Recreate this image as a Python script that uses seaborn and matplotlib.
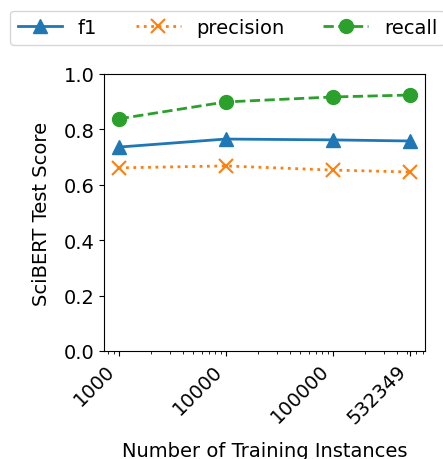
import matplotlib
matplotlib.use('Agg')
import matplotlib.pyplot as plt
import seaborn as sns
import numpy as np
import pandas as pd
from matplotlib.ticker import FixedLocator, FixedFormatter, NullFormatter

sizes = [1000, 10000, 100000, 532349]
f1 = [0.736, 0.765, 0.762, 0.758]
precision = [0.661, 0.668, 0.653, 0.646]
recall = [0.838, 0.899, 0.917, 0.924]
tick_labels = ['1000', '10000', '100000', '532349']

plt.rcParams['font.family'] = ['DejaVu Sans']
plt.rcParams['font.size'] = 14

fig = plt.figure(figsize=(4.43, 4.6), dpi=100)
ax = fig.add_axes([0.235, 0.235, 0.724, 0.602])

colors = sns.color_palette('tab10')
series = [('f1', f1, '^', '-', colors[0]),
          ('precision', precision, 'x', ':', colors[1]),
          ('recall', recall, 'o', '--', colors[2])]
for name, vals, mk, ls, c in series:
    sns.lineplot(x=sizes, y=vals, ax=ax, label=name, marker=mk, linestyle=ls,
                 color=c, linewidth=2, markersize=10,
                 markeredgewidth=1.5 if mk == 'x' else 1.0, markeredgecolor=c)

ax.set_xscale('log')
ax.set_ylim(0, 1.0)
ax.set_yticks([0.0, 0.2, 0.4, 0.6, 0.8, 1.0])
ax.xaxis.set_major_locator(FixedLocator(sizes))
ax.xaxis.set_major_formatter(FixedFormatter(tick_labels))
ax.xaxis.set_minor_formatter(NullFormatter())
plt.setp(ax.get_xticklabels(), rotation=45, ha='right')
ax.set_xlabel('Number of Training Instances', labelpad=10)
ax.set_ylabel('SciBERT Test Score', labelpad=9)

handles, labels = ax.get_legend_handles_labels()
ax.get_legend().remove()
fig.legend(handles, labels, ncol=3, loc='upper left', bbox_to_anchor=(0.022, 0.975),
           borderaxespad=0, handlelength=2.3)

fig.savefig('out.png', dpi=100)
